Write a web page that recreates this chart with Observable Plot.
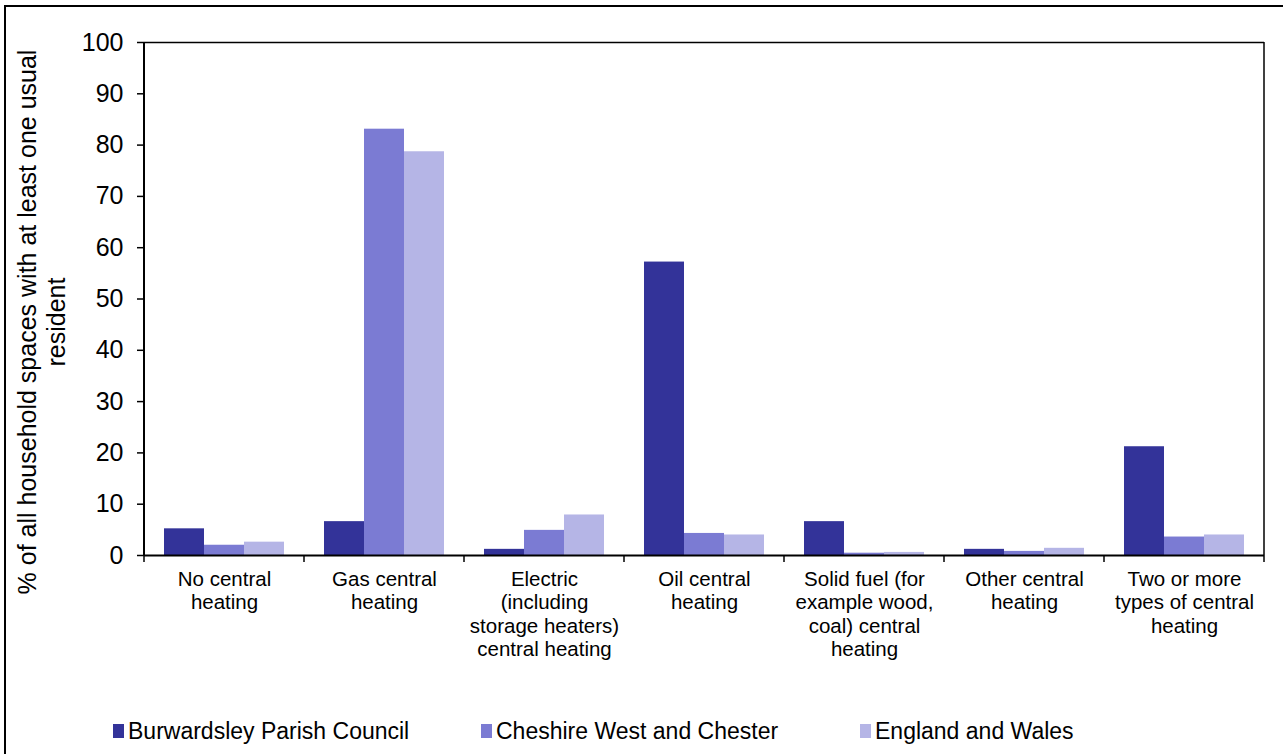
<!DOCTYPE html>
<html><head><meta charset="utf-8">
<script src="https://cdn.jsdelivr.net/npm/d3@7"></script>
<script src="https://cdn.jsdelivr.net/npm/@observablehq/plot@0.6"></script>
<style>
html,body{margin:0;padding:0;background:#fff;overflow:hidden;}
#wrap{position:relative;width:1283px;height:754px;overflow:hidden;font-family:"Liberation Sans",Arial,sans-serif;color:#000;}
#frame{position:absolute;left:4px;top:5px;width:1400px;height:900px;border-left:2px solid #000;border-top:2px solid #000;}
#chart{position:absolute;left:0;top:0;}
#legend{position:absolute;left:0;top:717px;width:1283px;height:28px;font-size:23px;}
.item{position:absolute;top:0;display:flex;align-items:center;height:28px;white-space:nowrap;}
.sw{display:inline-block;width:11px;height:14px;margin-right:4px;}
</style>
</head><body>
<div id="wrap"><div id="frame"></div><div id="chart"></div><div id="legend"></div></div>
<script>
const categories = ["No central heating", "Gas central heating", "Electric (including storage heaters) central heating", "Oil central heating", "Solid fuel (for example wood, coal) central heating", "Other central heating", "Two or more types of central heating"];
const categoryLabels = ["No central\nheating", "Gas central\nheating", "Electric\n(including\nstorage heaters)\ncentral heating", "Oil central\nheating", "Solid fuel (for\nexample wood,\ncoal) central\nheating", "Other central\nheating", "Two or more\ntypes of central\nheating"];
const series = ["Burwardsley Parish Council", "Cheshire West and Chester", "England and Wales"];
const burwardsley = [5.2, 6.6, 1.2, 57.2, 6.6, 1.2, 21.2];
const cheshire = [2.0, 83.1, 4.9, 4.3, 0.45, 0.8, 3.6];
const englandWales = [2.6, 78.7, 7.9, 4.0, 0.6, 1.4, 4.0];
const colors = ["#333399", "#7b7bd3", "#b5b5e6"];
const yTicks = [0, 10, 20, 30, 40, 50, 60, 70, 80, 90, 100];
const yTitle = ["% of all household spaces with at least one usual", "resident"];

const seriesValues = [burwardsley, cheshire, englandWales];
const data = categories.flatMap((c, i) => series.map((s, j) => ({category: c, series: s, value: seriesValues[j][i]})));

const plot = Plot.plot({
  width: 1283, height: 690,
  marginLeft: 144, marginRight: 19, marginTop: 42, marginBottom: 135,
  style: {fontFamily: "'Liberation Sans', Arial, sans-serif", color: "#000", background: "transparent", overflow: "visible"},
  fx: {domain: categories, padding: 0, label: null, axis: null},
  x: {domain: series, paddingInner: 0, paddingOuter: 0.5, axis: null},
  y: {domain: [0, 100], label: null, axis: null},
  color: {domain: series, range: colors},
  marks: [
    Plot.barY(data, {fx: "category", x: "series", y: "value", fill: "series"}),
    Plot.axisY({ticks: yTicks, tickSize: 7, tickPadding: 14, fontSize: 25, label: null, stroke: "#000", strokeWidth: 1.5}),
    Plot.axisFx({anchor: "bottom", tickSize: 0, tickPadding: 14, fontSize: 20.5, lineHeight: 1.14, label: null, tickFormat: c => categoryLabels[categories.indexOf(c)]}),
    Plot.ruleY([0], {stroke: "#000", strokeWidth: 2}),
    Plot.ruleY([100], {stroke: "#000", strokeWidth: 1.5})
  ]
});
document.getElementById("chart").appendChild(plot);

// frame lines & boundary ticks from the library's scales
const fx = plot.scale("fx"), y = plot.scale("y");
const svg = d3.select(plot);
const g = svg.append("g").attr("stroke", "#000");
const y0 = y.apply(0), y100 = y.apply(100);
const bounds = categories.map(c => fx.apply(c)).concat([fx.apply(categories[categories.length - 1]) + fx.bandwidth]);
bounds.forEach(b => g.append("line").attr("x1", b).attr("x2", b).attr("y1", y0).attr("y2", y0 + 7).attr("stroke-width", 1.5));
g.append("line").attr("x1", bounds[0]).attr("x2", bounds[0]).attr("y1", y100).attr("y2", y0).attr("stroke-width", 2);
g.append("line").attr("x1", bounds[bounds.length - 1]).attr("x2", bounds[bounds.length - 1]).attr("y1", y100).attr("y2", y0).attr("stroke-width", 1.5);

const t = svg.append("text")
  .attr("transform", `translate(0,322) rotate(-90)`)
  .attr("text-anchor", "middle")
  .attr("font-size", 25)
  .attr("fill", "#000")
  .attr("font-family", "'Liberation Sans', Arial, sans-serif");
t.append("tspan").attr("x", 0).attr("y", 36).text(yTitle[0]);
t.append("tspan").attr("x", 0).attr("y", 65).text(yTitle[1]);

const legendLefts = [113, 481, 860];
const legend = document.getElementById("legend");
series.forEach((s, i) => {
  const it = document.createElement("div");
  it.className = "item";
  it.style.left = legendLefts[i] + "px";
  const sw = document.createElement("span");
  sw.className = "sw"; sw.style.background = colors[i];
  it.appendChild(sw);
  it.appendChild(document.createTextNode(s));
  legend.appendChild(it);
});
</script>
</body></html>
